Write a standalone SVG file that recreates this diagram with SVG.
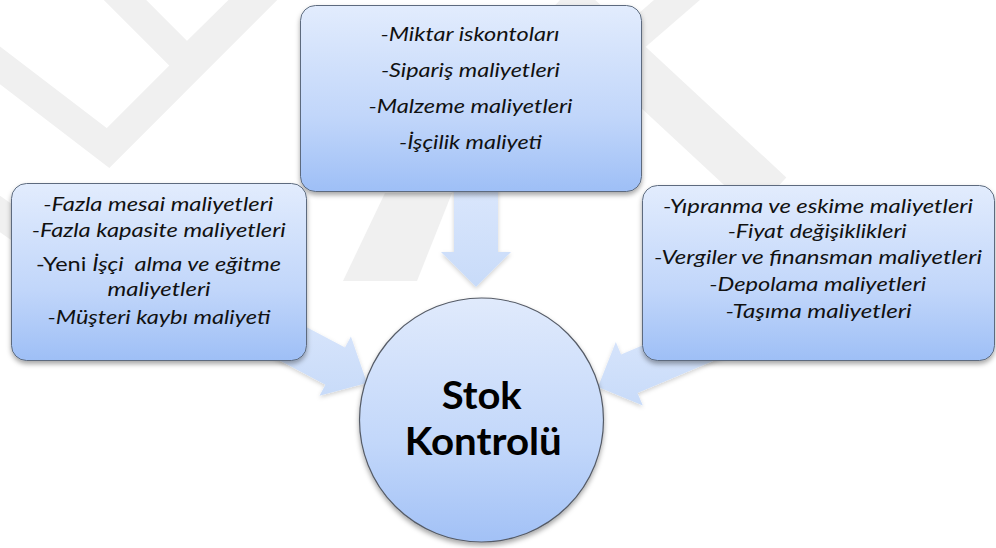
<svg xmlns="http://www.w3.org/2000/svg" width="996" height="548" viewBox="0 0 996 548">
  <style>
    .t { font-family: Lato, "Open Sans", "Liberation Sans", sans-serif; font-style: italic; font-size: 19px; fill: #111; text-anchor: middle; }
    .big { font-family: Lato, "Open Sans", "Liberation Sans", sans-serif; font-weight: bold; font-size: 38px; fill: #000; text-anchor: middle; }
    .box { fill: url(#boxGrad); stroke: #5d6b7e; stroke-width: 1; filter: url(#shadow); }
    .arrow { fill: url(#arrowGrad); filter: url(#ashadow); }
    .wm { fill: none; stroke: #f0f0f0; stroke-width: 30; stroke-linejoin: miter; }
  </style>
  <defs>
    <linearGradient id="boxGrad" x1="0" y1="0" x2="0" y2="1">
      <stop offset="0" stop-color="#e2ecfd"/>
      <stop offset="0.6" stop-color="#c1d6fa"/>
      <stop offset="1" stop-color="#9ebff6"/>
    </linearGradient>
    <linearGradient id="circGrad" x1="0" y1="0" x2="0" y2="1">
      <stop offset="0" stop-color="#e0eafc"/>
      <stop offset="0.6" stop-color="#c2d7fa"/>
      <stop offset="1" stop-color="#a2c1f6"/>
    </linearGradient>
    <linearGradient id="arrowGrad" x1="0" y1="0" x2="0" y2="1">
      <stop offset="0" stop-color="#dbe7fc"/>
      <stop offset="1" stop-color="#c8dbf9"/>
    </linearGradient>
    <filter id="shadow" x="-10%" y="-10%" width="120%" height="130%">
      <feDropShadow dx="0" dy="3" stdDeviation="2.5" flood-color="#000" flood-opacity="0.35"/>
    </filter>
    <filter id="ashadow" x="-20%" y="-20%" width="140%" height="140%">
      <feDropShadow dx="0" dy="2" stdDeviation="2" flood-color="#000" flood-opacity="0.18"/>
    </filter>
  </defs>

  <rect x="0" y="0" width="996" height="548" fill="#ffffff"/>

  <g id="watermark">
    <polyline class="wm" points="105,-20 187,62 270,-20"/>
    <polyline class="wm" points="-20,50 108,148 310,-54"/>
    <polyline class="wm" points="-20,200 80,270"/>
    <polygon fill="#f0f0f0" points="385,193 452,193 417,281 343,281"/>
    <line x1="560" y1="0" x2="770" y2="195" stroke="#f0f0f0" stroke-width="48"/>
    <line x1="625" y1="45" x2="700" y2="-20" stroke="#f0f0f0" stroke-width="30"/>
  </g>

  <g id="connectors">
    <polygon class="arrow" points="454,180 498,180 498,252 511,252 476,287 441,252 454,252"/>
    <polygon class="arrow" points="261.8,303.6 345,347.6 350.9,336.6 367,383 319.5,395.8 325.4,384.8 242.2,340.8"/>
    <polygon class="arrow" points="718.6,313.1 621.1,354.4 615.8,342 598,387 642.8,405.4 637.5,393 735,351.7"/>
  </g>

  <g id="top-box">
    <rect class="box" x="300.5" y="5.5" width="341" height="186" rx="15" ry="15"/>
    <text class="t" x="470" y="40.5" textLength="179" lengthAdjust="spacingAndGlyphs">-Miktar iskontoları</text>
    <text class="t" x="470.5" y="76.5" textLength="179" lengthAdjust="spacingAndGlyphs">-Sipariş maliyetleri</text>
    <text class="t" x="470.5" y="112.5" textLength="204" lengthAdjust="spacingAndGlyphs">-Malzeme maliyetleri</text>
    <text class="t" x="470.5" y="148.5" textLength="143" lengthAdjust="spacingAndGlyphs">-İşçilik maliyeti</text>
  </g>

  <g id="left-box">
    <rect class="box" x="11.5" y="183.5" width="295" height="177" rx="15" ry="15"/>
    <text class="t" x="158.3" y="210.5" textLength="230" lengthAdjust="spacingAndGlyphs">-Fazla mesai maliyetleri</text>
    <text class="t" x="158.7" y="236.5" textLength="254" lengthAdjust="spacingAndGlyphs">-Fazla kapasite maliyetleri</text>
    <text class="t" x="158.4" y="270.5" textLength="245" lengthAdjust="spacingAndGlyphs" style="white-space:pre"><tspan font-style="normal">-Yeni </tspan>İşçi  alma ve eğitme</text>
    <text class="t" x="159" y="296" textLength="103" lengthAdjust="spacingAndGlyphs">maliyetleri</text>
    <text class="t" x="159" y="324" textLength="223" lengthAdjust="spacingAndGlyphs">-Müşteri kaybı maliyeti</text>
  </g>

  <g id="right-box">
    <rect class="box" x="642.5" y="185.5" width="352" height="175" rx="15" ry="15"/>
    <text class="t" x="818" y="213" textLength="310" lengthAdjust="spacingAndGlyphs">-Yıpranma ve eskime maliyetleri</text>
    <text class="t" x="817.2" y="238" textLength="179" lengthAdjust="spacingAndGlyphs">-Fiyat değişiklikleri</text>
    <text class="t" x="817.9" y="264" textLength="328" lengthAdjust="spacingAndGlyphs">-Vergiler ve finansman maliyetleri</text>
    <text class="t" x="817.7" y="291" textLength="217" lengthAdjust="spacingAndGlyphs">-Depolama maliyetleri</text>
    <text class="t" x="818.5" y="318" textLength="186" lengthAdjust="spacingAndGlyphs">-Taşıma maliyetleri</text>
  </g>

  <g id="center-circle">
    <circle cx="481.5" cy="420" r="122" fill="url(#circGrad)" stroke="#555b66" stroke-width="1.2" filter="url(#shadow)"/>
    <text class="big" x="481.7" y="408.5" textLength="80" lengthAdjust="spacingAndGlyphs">Stok</text>
    <text class="big" x="483.3" y="455" textLength="157" lengthAdjust="spacingAndGlyphs">Kontrolü</text>
  </g>
</svg>
